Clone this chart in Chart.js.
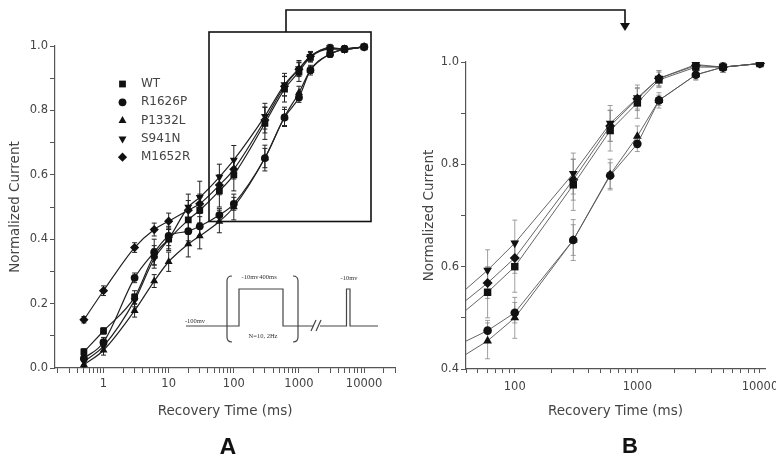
<!DOCTYPE html>
<html>
<head>
<meta charset="utf-8">
<script src="https://cdn.jsdelivr.net/npm/chart.js@4.4.0/dist/chart.umd.min.js"></script>
<style>
html,body{margin:0;padding:0;background:#fff;overflow:hidden;}
#wrap{position:relative;width:776px;height:454px;}
#chartA{position:absolute;left:0;top:0;}
#chartB{position:absolute;left:400px;top:0;}
#overlay{position:absolute;left:0;top:0;}
</style>
</head>
<body>
<div id="wrap">
<canvas id="chartA" width="400" height="454"></canvas>
<canvas id="chartB" width="376" height="454"></canvas>
<svg id="overlay" width="776" height="454">
  <!-- zoom box + connector -->
  <rect x="209" y="32" width="162" height="189.5" fill="none" stroke="#111" stroke-width="1.6"/>
  <polyline points="286,32 286,10 625,10 625,24" fill="none" stroke="#111" stroke-width="1.6"/>
  <polygon points="620,23 630,23 625,31" fill="#111"/>
  <!-- protocol inset -->
  <g stroke="#444" stroke-width="1.2" fill="none">
    <polyline points="186,326 239,326 239,289 283,289 283,326 313,326"/>
    <line x1="311" y1="331" x2="316" y2="320"/>
    <line x1="316" y1="331" x2="321" y2="320"/>
    <polyline points="320,326 346.5,326 346.5,289 350,289 350,326 378,326"/>
    <path d="M232,276 Q227,276 227,281 L227,337 Q227,342 232,342"/>
    <path d="M293,276 Q298,276 298,281 L298,337 Q298,342 293,342"/>
  </g>
  <g font-family="'Liberation Serif', serif" font-size="6.5" fill="#333" text-anchor="middle">
    <text x="195" y="323">-100mv</text>
    <text x="250" y="278.5">-10mv</text>
    <text x="268" y="278.5">400ms</text>
    <text x="263" y="337.5">N=10, 2Hz</text>
    <text x="349" y="280">-10mv</text>
  </g>
  <text x="228" y="455" font-family="'Liberation Sans', Arial, sans-serif" font-weight="bold" font-size="24" text-anchor="middle" fill="#111">A</text>
  <text x="630" y="453" font-family="'Liberation Sans', Arial, sans-serif" font-weight="bold" font-size="22" text-anchor="middle" fill="#111">B</text>
</svg>
</div>
<script>
// recovery times (ms)
const times = [0.5, 1, 3, 6, 10, 20, 30, 60, 100, 300, 600, 1000, 1500, 3000, 5000, 10000];

// normalized current, one array per channel
const wt     = [0.05, 0.115, 0.22, 0.35, 0.40, 0.46, 0.49, 0.55, 0.60, 0.76, 0.866, 0.92, 0.965, 0.99, 0.99, 0.997];
const r1626p = [0.03, 0.08, 0.28, 0.36, 0.41, 0.425, 0.44, 0.475, 0.51, 0.652, 0.778, 0.84, 0.925, 0.975, 0.99, 0.997];
const p1332l = [0.01, 0.055, 0.178, 0.27, 0.33, 0.385, 0.41, 0.455, 0.50, 0.652, 0.78, 0.855, 0.925, 0.975, 0.99, 0.997];
const s941n  = [0.02, 0.068, 0.21, 0.34, 0.40, 0.50, 0.53, 0.593, 0.646, 0.782, 0.88, 0.93, 0.968, 0.995, 0.99, 0.997];
const m1652r = [0.15, 0.24, 0.374, 0.43, 0.456, 0.49, 0.51, 0.568, 0.617, 0.77, 0.875, 0.928, 0.968, 0.993, 0.99, 0.997];

// SEM
const wtErr     = [0.01, 0.01, 0.02, 0.03, 0.03, 0.04, 0.04, 0.05, 0.05, 0.05, 0.04, 0.03, 0.015, 0.01, 0.01, 0.005];
const r1626pErr = [0.01, 0.015, 0.015, 0.04, 0.03, 0.03, 0.03, 0.02, 0.02, 0.03, 0.025, 0.015, 0.01, 0.01, 0.01, 0.005];
const p1332lErr = [0.01, 0.015, 0.02, 0.02, 0.03, 0.04, 0.04, 0.035, 0.04, 0.04, 0.03, 0.02, 0.015, 0.01, 0.01, 0.005];
const s941nErr  = [0.01, 0.015, 0.02, 0.03, 0.035, 0.04, 0.05, 0.04, 0.045, 0.04, 0.035, 0.025, 0.015, 0.01, 0.01, 0.005];
const m1652rErr = [0.01, 0.015, 0.015, 0.02, 0.025, 0.03, 0.03, 0.03, 0.03, 0.04, 0.03, 0.02, 0.015, 0.01, 0.01, 0.005];

const seriesNames = ["WT", "R1626P", "P1332L", "S941N", "M1652R"];
const decadeLabels = [1, 10, 100, 1000, 10000];

const FONT = "'DejaVu Sans', Verdana, sans-serif";

const series = [
  {label: seriesNames[0], vals: wt,     err: wtErr,     style: "rect",    r: 4.8, rot: 0},
  {label: seriesNames[1], vals: r1626p, err: r1626pErr, style: "circle",  r: 3.9, rot: 0},
  {label: seriesNames[2], vals: p1332l, err: p1332lErr, style: "triangle",r: 4.6, rot: 0},
  {label: seriesNames[3], vals: s941n,  err: s941nErr,  style: "triangle",r: 4.6, rot: 180},
  {label: seriesNames[4], vals: m1652r, err: m1652rErr, style: "rectRot", r: 4.6, rot: 0}
];

function logTicks(min, max){
  const out = [];
  for(let e = Math.floor(Math.log10(min)); e <= Math.ceil(Math.log10(max)); e++){
    for(let k = 1; k < 10; k++){
      const v = +(k * Math.pow(10, e)).toPrecision(3);
      if(v >= min && v <= max) out.push(v);
    }
  }
  return out;
}

function makeDatasets(panel){
  return series.map(s => ({
    label: s.label,
    data: times.map((t, i) => ({x: t, y: s.vals[i]})),
    err: s.err,
    borderColor: panel === "A" ? "#222" : "#555",
    borderWidth: panel === "A" ? 1.2 : 0.9,
    backgroundColor: "#111",
    pointBackgroundColor: "#111",
    pointBorderWidth: 0,
    pointStyle: s.style,
    pointRotation: s.rot,
    pointRadius: panel === "A" ? s.r : s.r * 1.1,
    tension: 0,
    cubicInterpolationMode: panel === "A" ? "monotone" : "default",
    clip: panel === "A" ? 6 : 0
  }));
}

const errorBars = {
  id: "errorBars",
  beforeDatasetsDraw(chart, args, opts){
    const {ctx, chartArea, scales} = chart;
    const x = scales.x, y = scales.y;
    ctx.save();
    ctx.beginPath();
    ctx.rect(chartArea.left, chartArea.top - opts.over, chartArea.width, chartArea.height + opts.over);
    ctx.clip();
    ctx.strokeStyle = opts.color;
    ctx.lineWidth = opts.width;
    chart.data.datasets.forEach(ds => {
      ds.data.forEach((p, i) => {
        const e = ds.err[i];
        const px = x.getPixelForValue(p.x);
        const top = y.getPixelForValue(p.y + e);
        const bot = y.getPixelForValue(p.y - e);
        const c = opts.cap;
        ctx.beginPath();
        ctx.moveTo(px, top); ctx.lineTo(px, bot);
        ctx.moveTo(px - c, top); ctx.lineTo(px + c, top);
        ctx.moveTo(px - c, bot); ctx.lineTo(px + c, bot);
        ctx.stroke();
      });
    });
    ctx.restore();
  }
};

const legendA = {
  id: "legendA",
  afterDraw(chart){
    const ctx = chart.ctx;
    ctx.save();
    chart.data.datasets.forEach((ds, i) => {
      const y = 84 + i * 18.3;
      ctx.fillStyle = "#111";
      Chart.helpers.drawPoint(ctx, {pointStyle: ds.pointStyle, radius: ds.pointRadius, rotation: ds.pointRotation, borderWidth: 0}, 122.5, y);
      ctx.fillStyle = "#444";
      ctx.font = "12px " + FONT;
      ctx.textBaseline = "middle";
      ctx.textAlign = "left";
      ctx.fillText(ds.label, 141, y);
    });
    ctx.restore();
  }
};

function makeOptions(cfg){
  return {
    responsive: false,
    animation: false,
    layout: {padding: {top: cfg.top, right: cfg.right, left: 0, bottom: 0}},
    plugins: {
      legend: {display: false},
      tooltip: {enabled: false},
      errorBars: cfg.err
    },
    scales: {
      x: {
        type: "logarithmic",
        min: cfg.xmin,
        max: cfg.xmax,
        border: {color: "#555", width: 1.2},
        grid: {drawOnChartArea: false, drawTicks: true, tickLength: cfg.xTick, color: "#555"},
        afterBuildTicks: s => { s.ticks = logTicks(cfg.xmin, cfg.xmax).map(v => ({value: v})); },
        afterFit: s => { s.height = 454 - cfg.bottom; s.paddingLeft = 0; s.paddingRight = 0; },
        ticks: {
          autoSkip: false,
          maxRotation: 0,
          padding: cfg.xPad,
          color: "#444",
          font: {family: FONT, size: 11.5},
          callback: v => decadeLabels.includes(v) ? String(v) : ""
        },
        title: {display: true, text: "Recovery Time (ms)", color: "#444",
          font: {family: FONT, size: 13.5}, padding: {top: 0, bottom: 34}}
      },
      y: {
        min: cfg.ymin,
        max: 1.0,
        border: {color: "#555", width: 1.2},
        grid: {drawOnChartArea: false, drawTicks: true, tickLength: cfg.yTick, color: "#555"},
        afterFit: s => { s.width = cfg.left; s.paddingTop = 0; s.paddingBottom = 0; },
        ticks: {
          stepSize: 0.1,
          padding: 2,
          color: "#444",
          font: {family: FONT, size: 11.5},
          callback: v => Math.round(v * 10) % 2 === 0 ? v.toFixed(1) : ""
        },
        title: {display: true, text: "Normalized Current", color: "#444",
          font: {family: FONT, size: 13.5}, padding: {top: cfg.yTitlePad, bottom: 0}}
      }
    }
  };
}

new Chart(document.getElementById("chartA"), {
  type: "line",
  data: {datasets: makeDatasets("A")},
  options: makeOptions({top: 46, right: 4, left: 55, bottom: 368, xmin: 0.18, xmax: 30000, ymin: 0,
    xTick: 5, xPad: 4, yTick: 5, yTitlePad: 7,
    err: {color: "#222", width: 1, cap: 2.5, over: 6}}),
  plugins: [errorBars, legendA]
});

new Chart(document.getElementById("chartB"), {
  type: "line",
  data: {datasets: makeDatasets("B")},
  options: makeOptions({top: 62, right: 11, left: 66, bottom: 369, xmin: 40, xmax: 11000, ymin: 0.4,
    xTick: 4, xPad: 7, yTick: 5, yTitlePad: 21,
    err: {color: "#888", width: 0.8, cap: 2.5, over: 0}}),
  plugins: [errorBars]
});
</script>
</body>
</html>
